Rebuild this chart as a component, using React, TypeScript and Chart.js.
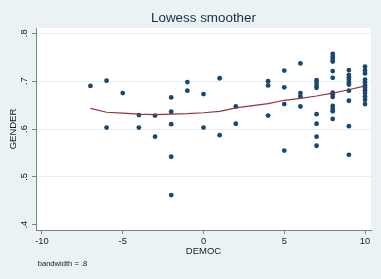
import React, { useEffect, useRef } from "react";
import { Chart, registerables } from "chart.js";

Chart.register(...registerables);

// ---- data ----
const democ = [
  -7,
  -6, -6,
  -5,
  -4, -4,
  -3, -3,
  -2, -2, -2, -2, -2,
  -1, -1,
  0, 0,
  1, 1,
  2, 2,
  4, 4, 4,
  5, 5, 5, 5,
  6, 6, 6, 6,
  7, 7, 7, 7, 7, 7, 7, 7,
  8, 8, 8, 8, 8, 8, 8, 8, 8, 8, 8, 8, 8,
  9, 9, 9, 9, 9, 9, 9, 9, 9, 9,
  10, 10, 10, 10, 10, 10, 10, 10, 10, 10, 10, 10,
];
const gender = [
  0.690,
  0.701, 0.603,
  0.675,
  0.629, 0.603,
  0.628, 0.584,
  0.666, 0.636, 0.610, 0.542, 0.462,
  0.698, 0.680,
  0.673, 0.603,
  0.706, 0.587,
  0.647, 0.611,
  0.700, 0.691, 0.628,
  0.722, 0.687, 0.652, 0.555,
  0.737, 0.675, 0.668, 0.647,
  0.702, 0.696, 0.690, 0.686, 0.631, 0.611, 0.584, 0.565,
  0.757, 0.751, 0.746, 0.741, 0.721, 0.707, 0.676, 0.672, 0.667, 0.648, 0.642, 0.637, 0.621,
  0.723, 0.713, 0.708, 0.703, 0.697, 0.693, 0.680, 0.659, 0.606, 0.546,
  0.730, 0.722, 0.716, 0.703, 0.697, 0.691, 0.686, 0.681, 0.675, 0.668, 0.661, 0.652,
];
const lowessX = [-7, -6, -5, -4, -3, -2, -1, 0, 1, 2, 4, 5, 6, 7, 8, 9, 10];
const lowessY = [0.643, 0.635, 0.633, 0.631, 0.630, 0.631, 0.632, 0.634, 0.637, 0.644, 0.653, 0.660, 0.664, 0.669, 0.675, 0.682, 0.690];

const xTickValues = [-10, -5, 0, 5, 10];
const yTickValues = [0.4, 0.5, 0.6, 0.7, 0.8];
const yTickLabels = [".4", ".5", ".6", ".7", ".8"];

const titleText = "Lowess smoother";
const xTitle = "DEMOC";
const yTitle = "GENDER";
const noteText = "bandwidth = .8";

// ---- styles ----
const FONT = "'Liberation Sans', Arial, Helvetica, sans-serif";
const BG = "#eaf2f3";
const GRID = "#e6eff1";
const AXIS = "#7a8488";
const TEXT = "#1c1c1c";
const TITLE = "#1e2a4a";
const NAVY = "#1a476f";
const MAROON = "#90353b";

const decor = {
  id: "decor",
  beforeDraw(chart: any) {
    const { ctx, chartArea: a, width, height } = chart;
    ctx.save();
    ctx.fillStyle = BG;
    ctx.fillRect(0, 0, width, height);
    ctx.fillStyle = "#ffffff";
    ctx.fillRect(a.left, a.top, a.right - a.left, a.bottom - a.top);
    ctx.restore();
  },
  afterDraw(chart: any) {
    const { ctx, chartArea: a } = chart;
    const ys = chart.scales.y;
    const cx = (a.left + a.right) / 2;
    const cy = (a.top + a.bottom) / 2;
    ctx.save();
    // y tick labels (rotated)
    ctx.fillStyle = TEXT;
    ctx.font = `9.3px ${FONT}`;
    ctx.textAlign = "center";
    ctx.textBaseline = "middle";
    ys.ticks.forEach((t: any) => {
      const i = yTickValues.indexOf(t.value);
      const label = i >= 0 ? yTickLabels[i] : String(t.value);
      const py = ys.getPixelForValue(t.value);
      ctx.save();
      ctx.translate(24.5, py);
      ctx.rotate(-Math.PI / 2);
      ctx.fillText(label, 0, 0);
      ctx.restore();
    });
    // y title
    ctx.font = `9.5px ${FONT}`;
    ctx.save();
    ctx.translate(13, cy);
    ctx.rotate(-Math.PI / 2);
    ctx.fillText(yTitle, 0, 0);
    ctx.restore();
    // x title
    ctx.fillText(xTitle, cx, 251.7);
    // title
    ctx.fillStyle = TITLE;
    ctx.font = `13.4px ${FONT}`;
    ctx.fillText(titleText, cx, 18);
    // note
    ctx.fillStyle = TEXT;
    ctx.font = `7.6px ${FONT}`;
    ctx.textAlign = "left";
    ctx.fillText(noteText, 37.7, 264);
    ctx.restore();
  },
};

export default function App() {
  const ref = useRef<HTMLCanvasElement | null>(null);
  useEffect(() => {
    if (!ref.current) return;
    const points = democ.map((x, i) => ({ x, y: gender[i] }));
    const line = lowessX.map((x, i) => ({ x, y: lowessY[i] }));
    const chart = new Chart(ref.current, {
      type: "scatter",
      data: {
        datasets: [
          {
            type: "line",
            data: line,
            borderColor: MAROON,
            borderWidth: 1.2,
            pointRadius: 0,
            tension: 0,
            fill: false,
          } as any,
          {
            data: points,
            backgroundColor: NAVY,
            borderWidth: 0,
            pointRadius: 2.4,
          },
        ],
      },
      options: {
        responsive: false,
        animation: false,
        events: [],
        layout: { padding: { left: 0, top: 28, right: 10, bottom: 0 } },
        plugins: {
          legend: { display: false },
          tooltip: { enabled: false },
          title: { display: false },
        },
        scales: {
          x: {
            type: "linear",
            min: -10.37,
            max: 10.37,
            afterBuildTicks: (s: any) => {
              s.ticks = xTickValues.map((v) => ({ value: v }));
            },
            afterFit: (s: any) => {
              s.height = 49;
            },
            ticks: {
              color: TEXT,
              font: { family: FONT, size: 9.3 },
              padding: 2,
              maxRotation: 0,
              minRotation: 0,
              callback: (v: any) => String(v),
            },
            grid: {
              drawOnChartArea: false,
              drawTicks: true,
              tickLength: 4,
              tickColor: AXIS,
              tickWidth: 1,
            },
            border: { display: true, color: AXIS, width: 1 },
          },
          y: {
            type: "linear",
            min: 0.389,
            max: 0.811,
            afterBuildTicks: (s: any) => {
              s.ticks = yTickValues.map((v) => ({ value: v }));
            },
            afterFit: (s: any) => {
              s.width = 36;
            },
            ticks: { display: false },
            grid: {
              drawOnChartArea: true,
              drawTicks: true,
              tickLength: 4,
              tickColor: AXIS,
              tickWidth: 1,
              lineWidth: 1,
              color: (c: any) =>
                c.tick && Math.abs(c.tick.value - 0.4) < 1e-9 ? "rgba(0,0,0,0)" : GRID,
            },
            border: { display: true, color: AXIS, width: 1 },
          },
        },
      },
      plugins: [decor],
    });
    return () => chart.destroy();
  }, []);
  return (
    <div style={{ position: "fixed", left: 0, top: 0, width: 381, height: 279 }}>
      <canvas ref={ref} width={381} height={279} style={{ display: "block" }} />
    </div>
  );
}
